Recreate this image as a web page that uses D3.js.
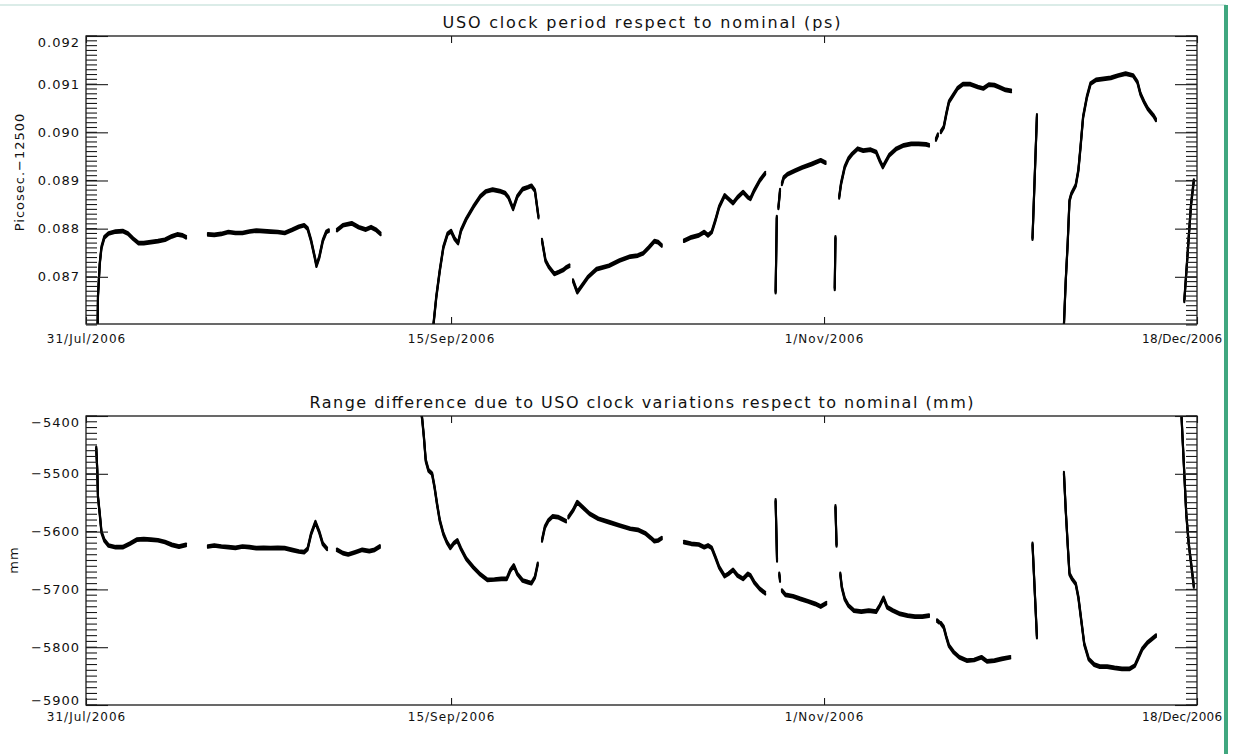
<!DOCTYPE html>
<html><head><meta charset="utf-8">
<script src="https://cdn.jsdelivr.net/npm/d3@7"></script>
<style>
body{margin:0;background:#fff;}
svg{display:block;font-family:"DejaVu Sans",sans-serif;}
</style></head><body><svg id="c" width="1238" height="754"></svg>
<script>
// ---------- data ----------
const startDate = new Date(Date.UTC(2006, 6, 31));
const endDate = new Date(Date.UTC(2006, 11, 18));
const xTickDates = [Date.UTC(2006,6,31), Date.UTC(2006,8,15), Date.UTC(2006,10,1), Date.UTC(2006,11,18)];
const xTickLabels = ["31/Jul/2006", "15/Sep/2006", "1/Nov/2006", "18/Dec/2006"];

const periodTitle = "USO clock period respect to nominal (ps)";
const periodYLabel = "Picosec.\u221212500";
const periodTicks = [0.087, 0.088, 0.089, 0.090, 0.091, 0.092];
const periodTickLabels = ["0.087", "0.088", "0.089", "0.090", "0.091", "0.092"];

const rangeTitle = "Range difference due to USO clock variations respect to nominal (mm)";
const rangeYLabel = "mm";
const rangeTicks = [-5900, -5800, -5700, -5600, -5500, -5400];
const rangeTickLabels = ["\u22125900", "\u22125800", "\u22125700", "\u22125600", "\u22125500", "\u22125400"];

// days since 31/Jul/2006 (null = data gap)
const periodDays = [
 1.45,1.51,1.73,1.95,2.31,2.84,3.73,4.62,5.28,5.95,6.62,7.28,8.17,9.06,9.95,10.83,11.5,12.17,12.61,null,
 15.36,16.16,17.05,17.94,18.83,19.72,20.60,21.49,22.38,23.27,24.16,25.04,25.93,26.82,27.49,27.93,28.37,28.82,29.04,29.40,29.84,30.28,30.60,null,
 31.62,32.37,33.48,34.37,35.26,35.92,36.59,37.12,null,
 43.70,43.78,44.14,44.58,45.03,45.56,46.00,46.45,46.89,47.25,47.91,48.80,49.69,50.36,51.24,52.13,52.80,53.24,53.82,54.35,55.02,55.68,56.13,56.57,57.02,null,
 57.46,57.90,58.35,59.01,59.59,60.12,60.57,60.92,null,
 61.37,61.90,62.34,63.23,64.34,65.90,67.23,68.59,69.53,70.22,70.92,71.62,72.09,72.55,null,
 75.35,76.28,77.21,77.91,78.38,78.85,79.31,79.78,80.47,80.94,81.54,82.10,82.80,83.41,83.73,84.20,84.90,85.59,null,
 86.90,87.05,null,87.25,87.46,null,87.69,87.92,88.39,89.32,90.25,91.42,92.58,93.19,null,
 94.35,94.44,null,94.91,95.14,95.61,96.07,96.54,97.24,97.94,98.87,99.57,100.03,100.41,100.73,101.20,102.13,103.06,103.99,104.92,105.86,106.23,null,
 107.10,107.35,null,107.72,108.09,108.42,108.74,109.12,109.81,110.51,111.44,112.38,113.07,113.77,114.47,115.17,115.87,116.57,null,
 119.27,119.83,null,
 123.20,123.23,123.46,123.70,123.93,124.16,124.72,125.05,125.32,125.65,126.12,126.58,127.28,128.21,129.14,130.08,131.01,131.94,132.50,132.87,133.34,133.80,134.50,134.83,null,
 138.40,138.70,138.95,139.25,139.60
];
const periodValues = [
 0.0858,0.08660,0.08727,0.08761,0.08782,0.08790,0.08794,0.08795,0.08790,0.08779,0.08770,0.08770,0.08772,0.08774,0.08777,0.08784,0.08788,0.08786,0.08782,null,
 0.08788,0.08787,0.08789,0.08793,0.08791,0.08791,0.08794,0.08796,0.08795,0.08794,0.08793,0.08791,0.08797,0.08804,0.08807,0.08800,0.08775,0.08741,0.08723,0.08741,0.08775,0.08793,0.08796,null,
 0.08797,0.08807,0.08811,0.08803,0.08798,0.08803,0.08797,0.08789,null,
 0.0858,0.08600,0.08658,0.08713,0.08761,0.08789,0.08795,0.08779,0.08770,0.08796,0.08820,0.08845,0.08867,0.08877,0.08881,0.08878,0.08874,0.08865,0.08841,0.08867,0.08882,0.08886,0.08889,0.08879,0.08824,null,
 0.08776,0.08734,0.08720,0.08706,0.08710,0.08714,0.08720,0.08723,null,
 0.08692,0.08668,0.08678,0.08699,0.08716,0.08723,0.08734,0.08742,0.08744,0.08749,0.08761,0.08774,0.08772,0.08765,null,
 0.08775,0.08782,0.08786,0.08793,0.08786,0.08793,0.08817,0.08845,0.08869,0.08862,0.08853,0.08865,0.08876,0.08865,0.08862,0.08879,0.08900,0.08915,null,
 0.08668,0.08824,null,0.08843,0.08880,null,0.08893,0.08906,0.08913,0.08920,0.08927,0.08934,0.08942,0.08937,null,
 0.08675,0.08782,null,0.08865,0.08893,0.08928,0.08945,0.08955,0.08966,0.08962,0.08964,0.08959,0.08941,0.08928,0.08938,0.08952,0.08966,0.08973,0.08976,0.08976,0.08975,0.08973,null,
 0.08985,0.08995,null,0.09001,0.09011,0.09039,0.09063,0.09073,0.09091,0.09100,0.09100,0.09094,0.09091,0.09099,0.09098,0.09093,0.09088,0.09086,null,
 0.08779,0.09035,null,
 0.0858,0.08600,0.08692,0.08768,0.08858,0.08872,0.08890,0.08921,0.08969,0.09032,0.09073,0.09101,0.09109,0.09111,0.09113,0.09118,0.09122,0.09118,0.09104,0.09080,0.09063,0.09049,0.09035,0.09026,null,
 0.0865,0.0872,0.0878,0.0885,0.0890
];

const rangeDays = [
 1.29,1.42,1.51,1.73,1.95,2.31,2.84,3.73,4.62,5.51,6.39,7.28,8.17,9.06,9.95,10.83,11.72,12.61,null,
 15.36,16.16,17.05,17.94,18.83,19.72,20.60,21.49,22.38,23.27,24.16,25.04,25.93,26.82,27.49,27.93,28.37,28.91,29.40,29.84,30.37,null,
 31.62,32.37,33.04,33.93,34.81,35.70,36.37,37.03,null,
 42.14,42.36,42.58,42.81,43.16,43.61,43.92,44.23,44.58,45.03,45.47,45.91,46.36,46.80,47.25,47.91,48.80,49.69,50.58,51.47,52.35,53.02,53.46,53.91,54.35,55.02,55.68,56.13,56.57,56.93,null,
 57.46,57.82,58.26,58.79,59.46,59.90,60.48,null,
 60.79,61.37,61.90,62.57,63.46,64.56,65.90,67.23,68.59,69.53,70.46,71.16,71.62,72.09,72.55,null,
 75.35,76.28,77.21,77.91,78.38,78.85,79.31,79.78,80.47,80.94,81.54,82.10,82.80,83.41,83.73,84.20,84.90,85.59,null,
 86.90,87.08,null,87.36,87.46,null,87.69,88.16,89.09,90.02,90.95,91.88,92.58,93.28,null,
 94.44,94.58,null,95.05,95.24,95.61,96.07,96.77,97.70,98.64,99.57,100.03,100.50,100.96,101.66,102.59,103.53,104.46,105.39,106.23,null,
 107.25,107.49,null,107.72,108.09,108.42,108.74,109.35,110.05,110.98,111.91,112.84,113.54,114.47,115.40,116.47,null,
 119.27,119.83,null,
 123.23,123.46,123.70,123.93,124.26,124.72,125.05,125.42,125.79,126.35,127.05,127.75,128.68,129.61,130.54,131.47,132.17,132.64,133.10,133.80,134.83,null,
 138.05,138.40,138.65,138.95,139.30,139.60
];
const rangeValues = [
 -5455,-5494,-5540,-5569,-5601,-5615,-5624,-5627,-5627,-5621,-5614,-5613,-5614,-5615,-5618,-5623,-5626,-5623,null,
 -5625.8,-5624.0,-5625.8,-5626.9,-5628.1,-5625.8,-5626.9,-5628.6,-5628.1,-5628.6,-5628.1,-5628.6,-5631.5,-5634.4,-5635.6,-5629.8,-5603.8,-5583.6,-5600.9,-5621.1,-5629.8,null,
 -5631.5,-5637.3,-5639.6,-5635.6,-5631.5,-5633.8,-5631.5,-5625.8,null,
 -5385,-5404.6,-5436.4,-5476.8,-5494.1,-5499.9,-5523.0,-5551.8,-5580.7,-5603.8,-5618.2,-5628.1,-5620.0,-5615.4,-5629.8,-5647.1,-5661.6,-5674.2,-5683.5,-5682.9,-5681.8,-5681.8,-5667.3,-5658.7,-5673.1,-5684.6,-5687.5,-5689.3,-5678.9,-5655.8,null,
 -5615.4,-5592.3,-5580.7,-5573.8,-5574.9,-5577.8,-5581.9,null,
 -5574.9,-5563.4,-5549.0,-5557.6,-5569.2,-5577.8,-5583.6,-5589.4,-5595.1,-5596.9,-5602.7,-5610.7,-5616.5,-5615.4,-5611.3,null,
 -5618.2,-5621.1,-5622.3,-5626.9,-5624.0,-5628.1,-5644.2,-5661.6,-5677.1,-5673.1,-5666.2,-5676.0,-5681.8,-5673.1,-5676.0,-5687.5,-5699.1,-5706.6,null,
 -5546.1,-5650.0,null,-5673.1,-5684.6,null,-5702.0,-5709.5,-5711.8,-5716.4,-5720.4,-5725.0,-5729.7,-5723.9,null,
 -5556.5,-5624.0,null,-5673.1,-5696.2,-5716.4,-5727.9,-5736.6,-5738.3,-5736.6,-5738.3,-5727.9,-5714.6,-5730.8,-5736.6,-5742.4,-5745.3,-5747.0,-5747.0,-5745.3,null,
 -5753.9,-5756.8,null,-5758.5,-5765.5,-5782.8,-5797.2,-5808.8,-5817.4,-5823.2,-5822.1,-5817.4,-5824.4,-5823.2,-5820.3,-5817.4,null,
 -5621.1,-5782.8,null,
 -5498.7,-5563.4,-5621.1,-5673.1,-5681.8,-5690.4,-5713.5,-5753.9,-5794.3,-5820.3,-5830.1,-5833.6,-5833.6,-5835.9,-5837.6,-5837.6,-5831.9,-5817.4,-5803.0,-5791.5,-5779.9,null,
 -5401,-5500,-5570,-5620,-5660,-5695
];

// ---------- drawing ----------
const svg = d3.select("#c");
const L = 86, R = 1197;
const DAY = 86400000;
const x = d3.scaleUtc().domain([startDate, endDate]).range([L, R]);
const AX = "#1a1a1a";

svg.append("rect").attr("width", 1238).attr("height", 754).attr("fill", "#fff");

function panel(opt) {
  const y = d3.scaleLinear().domain(opt.domain).range([opt.bottom, opt.top]);
  const g = svg.append("g");
  const id = "clip" + opt.key;
  svg.append("clipPath").attr("id", id).append("rect")
    .attr("x", L).attr("y", opt.top).attr("width", R - L).attr("height", opt.bottom - opt.top);

  // data line: stacked with small vertical offsets to mimic the dense noisy trace
  const pts = opt.days.map((d, i) => ({ t: d == null ? null : new Date(startDate.getTime() + d * DAY), v: opt.values[i] }));
  const line = d3.line().defined(p => p.v != null && p.t != null).x(p => x(p.t)).y(p => y(p.v));
  const dg = g.append("g").attr("clip-path", `url(#${id})`);
  [-1.3, 0, 1.3].forEach(off => {
    dg.append("path").datum(pts).attr("d", line).attr("transform", `translate(0,${off})`)
      .attr("fill", "none").attr("stroke", "#000").attr("stroke-width", 2.1)
      .attr("stroke-linejoin", "round").attr("stroke-linecap", "round");
  });

  // minor ticks every 1/10 of a major step (left: pointing right, right: pointing left)
  const nMinor = Math.round((opt.domain[1] - opt.domain[0]) / opt.minorStep);
  const minor = d3.range(0, nMinor + 1).map(i => opt.domain[1] - i * opt.minorStep);
  const mg = g.append("g").attr("stroke", AX).attr("stroke-width", 1.1);
  mg.selectAll("line.ml").data(minor).join("line").attr("class", "ml")
    .attr("x1", L).attr("x2", L + 11).attr("y1", d => y(d)).attr("y2", d => y(d));
  mg.selectAll("line.mr").data(minor).join("line").attr("class", "mr")
    .attr("x1", R - 11).attr("x2", R).attr("y1", d => y(d)).attr("y2", d => y(d));

  // left axis (major)
  const lb = g.append("g").attr("transform", `translate(${L},0)`);
  lb.call(d3.axisLeft(y).tickValues(opt.ticks).tickSize(-22).tickPadding(6)
    .tickFormat((d, i) => opt.tickLabels[i]));
  lb.selectAll(".domain").remove();
  lb.selectAll("text").attr("font-size", 13).attr("letter-spacing", 1)
    .attr("font-family", "DejaVu Sans").attr("fill", "#111")
    .attr("y", d => Math.min(Math.max(y(d), opt.top + 6), opt.bottom - 5) - y(d));

  // right axis (major)
  const rb = g.append("g").attr("transform", `translate(${R},0)`);
  rb.call(d3.axisRight(y).tickValues(opt.ticks).tickSize(-22).tickFormat(() => ""));
  rb.selectAll(".domain").remove();

  // bottom / top axes
  const ba = g.append("g").attr("transform", `translate(0,${opt.bottom})`);
  ba.call(d3.axisBottom(x).tickValues(xTickDates.map(t => new Date(t))).tickSize(-7).tickPadding(opt.xPad)
    .tickFormat((d, i) => xTickLabels[i]));
  ba.selectAll(".domain").remove();
  ba.selectAll("text").attr("font-size", 12).attr("letter-spacing", 1)
    .attr("font-family", "DejaVu Sans").attr("fill", "#111");
  // last label ends just before the window edge
  ba.selectAll("text").filter((d, i) => i === xTickLabels.length - 1)
    .attr("text-anchor", "end").attr("letter-spacing", 0.3).attr("x", 1222 - R);
  const ta = g.append("g").attr("transform", `translate(0,${opt.top})`);
  ta.call(d3.axisTop(x).tickValues(xTickDates.map(t => new Date(t))).tickSize(-7).tickFormat(() => ""));
  ta.selectAll(".domain").remove();

  g.selectAll(".tick line").attr("stroke", AX).attr("stroke-width", 1.1);

  // frame
  g.append("rect").attr("x", L).attr("y", opt.top).attr("width", R - L).attr("height", opt.bottom - opt.top)
    .attr("fill", "none").attr("stroke", AX).attr("stroke-width", 1.3);

  // title
  g.append("text").attr("x", (L + R) / 2).attr("y", opt.titleY).attr("text-anchor", "middle")
    .attr("font-size", 16).attr("fill", "#111").attr("textLength", opt.titleLen).attr("lengthAdjust", "spacing")
    .text(opt.title);

  // y label
  g.append("text").attr("transform", `translate(${opt.ylx},${opt.yly}) rotate(-90)`)
    .attr("text-anchor", "middle").attr("font-size", 13).attr("letter-spacing", 1).attr("fill", "#111")
    .text(opt.ylabel);
}

panel({ key: "p", top: 36, bottom: 324, domain: [0.08602, 0.092], minorStep: 0.0001,
  ticks: periodTicks, tickLabels: periodTickLabels, days: periodDays, values: periodValues,
  xPad: 10, title: periodTitle, titleY: 28, titleLen: 398, ylabel: periodYLabel, ylx: 24, yly: 172 });

panel({ key: "r", top: 416, bottom: 705, domain: [-5900, -5400], minorStep: 10,
  ticks: rangeTicks, tickLabels: rangeTickLabels, days: rangeDays, values: rangeValues,
  xPad: 7, title: rangeTitle, titleY: 408, titleLen: 664, ylabel: rangeYLabel, ylx: 18, yly: 560 });

// window decorations at the edges of the screenshot
svg.append("line").attr("x1", 0).attr("x2", 1226).attr("y1", 5).attr("y2", 5)
  .attr("stroke", "#cfe6e1").attr("stroke-width", 1.5);
svg.append("rect").attr("x", 1224).attr("y", 5).attr("width", 4).attr("height", 749).attr("fill", "#40a77f");
</script></body></html>
